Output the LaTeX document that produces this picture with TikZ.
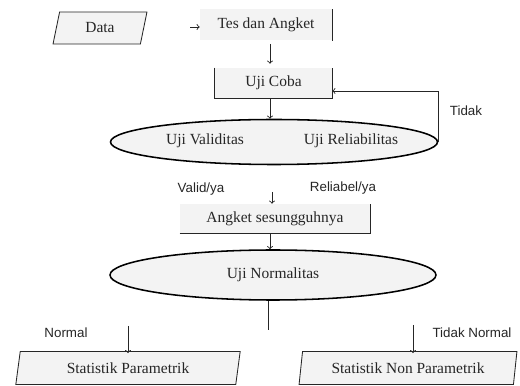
\documentclass[tikz,border=0pt]{standalone}
\usepackage{fontspec}
\setmainfont{Liberation Serif}
\setsansfont{Liberation Sans}
\usepackage{tikz}
\usetikzlibrary{arrows}
\usetikzlibrary{calc}
\usetikzlibrary{shapes.geometric}
\newcommand{\FCUnit}{0.025cm}
\newcommand{\FCBoxFont}{\fontsize{11}{11}\selectfont}
\newcommand{\FCLabelFont}{\sffamily\fontsize{9.5}{9.5}\selectfont}
\definecolor{FCFill}{HTML}{F3F3F3}
\definecolor{FCInk}{HTML}{262626}
\tikzset{
  io/.style={trapezium, trapezium left angle=77, trapezium right angle=103,
    trapezium stretches=true, draw=FCInk, line width=0.6pt, fill=FCFill,
    inner sep=0pt, font=\FCBoxFont, text=FCInk},
  box/.style={rectangle, fill=FCFill, inner sep=0pt, font=\FCBoxFont, text=FCInk},
  test/.style={ellipse, draw=black, line width=1.1pt, fill=FCFill, inner sep=0pt},
  boxtext/.style={font=\FCBoxFont, text=FCInk},
  lab/.style={font=\FCLabelFont, text=FCInk},
  line/.style={draw=FCInk, line width=0.6pt},
  flow/.style={line, ->, >=to}
}
\begin{document}
\begin{tikzpicture}[x=\FCUnit,y=-\FCUnit]
\useasboundingbox (0,0) rectangle (520,386);
\coordinate (axis) at (270,0);

% input and first box
\node[io, minimum width=94*\FCUnit, minimum height=32*\FCUnit] (data) at (100,28) {Data};
\node[box, minimum width=132*\FCUnit, minimum height=31*\FCUnit] (tes) at (266,25) {Tes dan Angket};
\draw[line] (tes.north east) -- (tes.south east);
\coordinate (tesin) at (190,27);
\draw[flow] (tesin) -- (tes.west |- tesin);

% trial test
\node[box, minimum width=117*\FCUnit, minimum height=30*\FCUnit] (coba) at (273.5,83) {Uji Coba};
\draw[line] (coba.north west) -- (coba.south west) -- (coba.south east) -- (coba.north east);
\draw[flow] ([yshift=-3*\FCUnit]tes.south -| axis) -- ([yshift=4*\FCUnit]coba.north -| axis);

\node[test, minimum width=327*\FCUnit, minimum height=45*\FCUnit] (uji) at (274,142) {};
\node[boxtext] (valid) at (205,141) {Uji Validitas};
\node[boxtext] (reliabel) at (351,141) {Uji Reliabilitas};
\draw[flow] (coba.south -| axis) -- (uji.north -| axis);

% back loop
\coordinate (back) at (0,91);
\draw[flow] (uji.east) -- (uji.east |- back) -- (coba.east |- back);
\node[lab] (tidak) at (466,111) {Tidak};

\node[lab] (ya1) at (201,189) {Valid/ya};
\node[lab] (ya2) at (343,188) {Reliabel/ya};

% real questionnaire
\node[box, minimum width=190*\FCUnit, minimum height=29*\FCUnit] (angket) at (275,218.5) {Angket sesungguhnya};
\draw[line] (angket.south west) -- (angket.south east) -- (angket.north east);
\coordinate (angin) at (272,192);
\draw[flow] (angin) -- (angket.north -| angin);

\node[test, minimum width=326*\FCUnit, minimum height=50*\FCUnit] (norm) at (273,275) {};
\node[boxtext] (normtext) at (273,275) {Uji Normalitas};
\draw[flow] (angket.south -| axis) -- (norm.north -| axis);

% split
\coordinate (split) at (268,330);
\draw[line] (norm.south -| split) -- (split);

\node[io, minimum width=225*\FCUnit, minimum height=33*\FCUnit] (par) at (128,368) {Statistik Parametrik};
\node[io, minimum width=218*\FCUnit, minimum height=33*\FCUnit] (nonpar) at (408,368) {Statistik Non Parametrik};
\coordinate (parin) at (128,326);
\coordinate (nonin) at (413,325);
\draw[flow] (parin) -- ([yshift=-2*\FCUnit]par.north -| parin);
\draw[flow] (nonin) -- ([yshift=-2*\FCUnit]nonpar.north -| nonin);
\node[lab] (normal) at (66,333) {Normal};
\node[lab] (tidaknormal) at (472,333) {Tidak Normal};
\end{tikzpicture}
\end{document}
